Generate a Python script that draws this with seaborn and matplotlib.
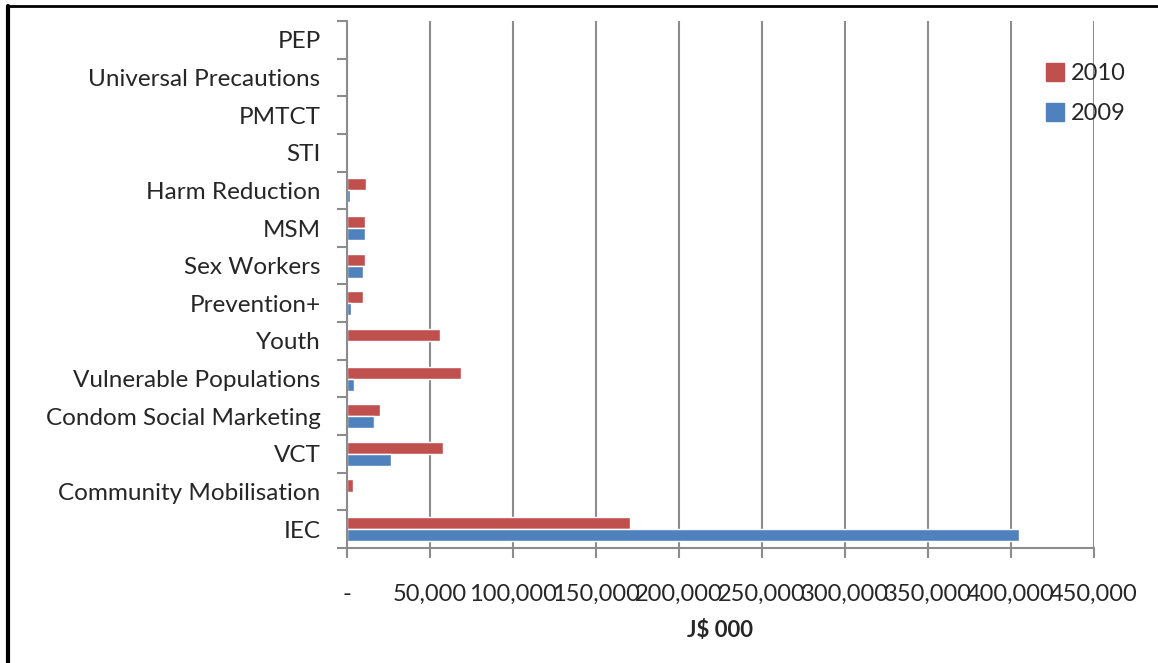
import matplotlib
matplotlib.use("Agg")
import matplotlib.pyplot as plt
import seaborn as sns
import pandas as pd
from matplotlib.ticker import FuncFormatter
from matplotlib.lines import Line2D

categories = ["PEP", "Universal Precautions", "PMTCT", "STI", "Harm Reduction", "MSM",
              "Sex Workers", "Prevention+", "Youth", "Vulnerable Populations",
              "Condom Social Marketing", "VCT", "Community Mobilisation", "IEC"]
values_2010 = [0, 0, 0, 0, 11300, 11000, 11000, 9400, 56000, 68500, 19700, 57800, 3900, 170300]
values_2009 = [0, 0, 0, 0, 1600, 10800, 9600, 2400, 0, 4200, 16400, 26700, 0, 405000]
series = ["2010", "2009"]
xticks = [0, 50000, 100000, 150000, 200000, 250000, 300000, 350000, 400000, 450000]

df = pd.DataFrame({
    "category": categories * 2,
    "value": values_2010 + values_2009,
    "year": [series[0]] * len(categories) + [series[1]] * len(categories),
})

sns.set_style("white")
plt.rcParams["font.family"] = ["Lato", "DejaVu Sans"]

fig = plt.figure(figsize=(11.58, 6.63), dpi=100)
ax = fig.add_axes([347/1158, 1-548/663, (1094-347)/1158, (548-21)/663])

sns.barplot(data=df, y="category", x="value", hue="year", order=categories,
            hue_order=series, palette={"2010": "#C0504D", "2009": "#4F81BD"},
            orient="h", width=0.64, ax=ax, saturation=1, legend=False)

ax.set_xlim(0, 450000)
ax.set_ylim(len(categories) - 0.5, -0.5)
ax.set_xticks(xticks)
ax.xaxis.set_major_formatter(FuncFormatter(lambda v, p: "-" if v == 0 else f"{int(v):,}"))
ax.set_yticks(range(len(categories)))
ax.set_yticklabels(categories)
ax.set_yticks([i - 0.5 for i in range(len(categories) + 1)], minor=True)
ax.tick_params(axis="y", which="major", left=False, length=0, pad=19, labelsize=17.5)
ax.tick_params(axis="y", which="minor", left=True, length=7, width=1.5, color="#8c8c8c")
ax.tick_params(axis="x", which="major", bottom=True, length=7, width=1.5, color="#8c8c8c",
               labelsize=17, pad=19)
ax.grid(axis="x", color="#8c8c8c", linewidth=1.5)
ax.set_axisbelow(True)
for s in ["top", "right"]:
    ax.spines[s].set_visible(False)
for s in ["left", "bottom"]:
    ax.spines[s].set_color("#8c8c8c")
    ax.spines[s].set_linewidth(1.5)
ax.set_ylabel("")
ax.set_xlabel("J$ 000", fontsize=16, fontweight="bold", labelpad=11)

handles = [Line2D([], [], marker="s", linestyle="", markersize=13, color="#C0504D"),
           Line2D([], [], marker="s", linestyle="", markersize=13, color="#4F81BD")]
fig.legend(handles, series, loc="upper left", bbox_to_anchor=(1022/1158, 1-42/663),
           frameon=False, fontsize=17, handletextpad=0.15, labelspacing=0.8,
           handlelength=1.0)

fig.add_artist(Line2D([7/1158, 1], [1-6/663, 1-6/663], color="black", linewidth=2))
fig.add_artist(Line2D([8/1158, 8/1158], [0, 1-6/663], color="black", linewidth=3))

fig.savefig("out.png", dpi=100)
